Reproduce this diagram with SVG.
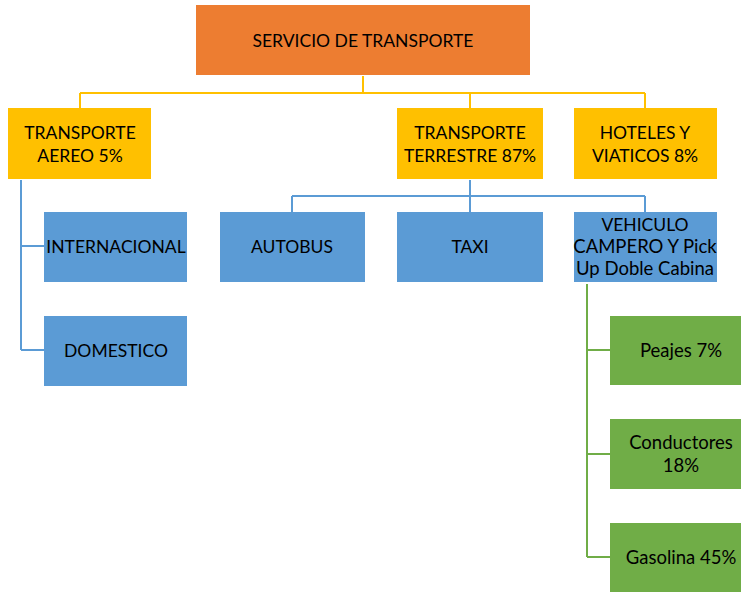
<svg xmlns="http://www.w3.org/2000/svg" width="741" height="593" viewBox="0 0 741 593">
<style>
text{font-family:Lato,"Liberation Sans",sans-serif;font-size:17.5px;fill:#000;text-anchor:middle}
.l{font-size:18.5px}
.o{fill:#ED7D31}.y{fill:#FFC000}.b{fill:#5B9BD5}.g{fill:#70AD47}
.cy{stroke:#FFC000;stroke-width:2;fill:none}.cb{stroke:#5B9BD5;stroke-width:2;fill:none}.cg{stroke:#70AD47;stroke-width:2;fill:none}
</style>
<rect width="741" height="593" fill="#fff"/>
<g id="connectors">
<path class="cy" d="M363 76V93M80 93H645M80 93V108M470 93V108M645 93V108"/>
<path class="cb" d="M21 180V350M21 246H44M21 350H44"/>
<path class="cb" d="M470 180V212M292 196H645M292 196V212M645 196V212"/>
<path class="cg" d="M587 284V557M587 350H610M587 454H610M587 557H610"/>
</g>
<g id="root"><rect class="o" x="196" y="5" width="334" height="70"/><text x="363" y="47">SERVICIO DE TRANSPORTE</text></g>
<g id="aereo"><rect class="y" x="8" y="108" width="143" height="71"/><text x="80" y="139">TRANSPORTE</text><text x="80" y="162">AEREO 5%</text></g>
<g id="terrestre"><rect class="y" x="397" y="108" width="146" height="71"/><text x="470" y="139">TRANSPORTE</text><text x="470" y="162">TERRESTRE 87%</text></g>
<g id="hoteles"><rect class="y" x="574" y="108" width="143" height="71"/><text x="645" y="139">HOTELES Y</text><text x="645" y="162">VIATICOS 8%</text></g>
<g id="internacional"><rect class="b" x="44" y="212" width="143" height="70"/><text x="116" y="253">INTERNACIONAL</text></g>
<g id="domestico"><rect class="b" x="44" y="316" width="143" height="70"/><text x="116" y="357">DOMESTICO</text></g>
<g id="autobus"><rect class="b" x="220" y="212" width="145" height="70"/><text x="292" y="253">AUTOBUS</text></g>
<g id="taxi"><rect class="b" x="397" y="212" width="146" height="70"/><text x="470" y="253">TAXI</text></g>
<g id="vehiculo"><rect class="b" x="574" y="212" width="143" height="70"/><text x="645" y="231">VEHICULO</text><text class="l" x="645" y="253">CAMPERO Y Pick</text><text class="l" x="645" y="275">Up Doble Cabina</text></g>
<g id="peajes"><rect class="g" x="610" y="316" width="143" height="69"/><text class="l" x="681" y="357">Peajes 7%</text></g>
<g id="conductores"><rect class="g" x="610" y="419" width="143" height="70"/><text class="l" x="681" y="449">Conductores</text><text class="l" x="681" y="472">18%</text></g>
<g id="gasolina"><rect class="g" x="610" y="523" width="143" height="69"/><text class="l" x="681" y="564">Gasolina 45%</text></g>
</svg>
